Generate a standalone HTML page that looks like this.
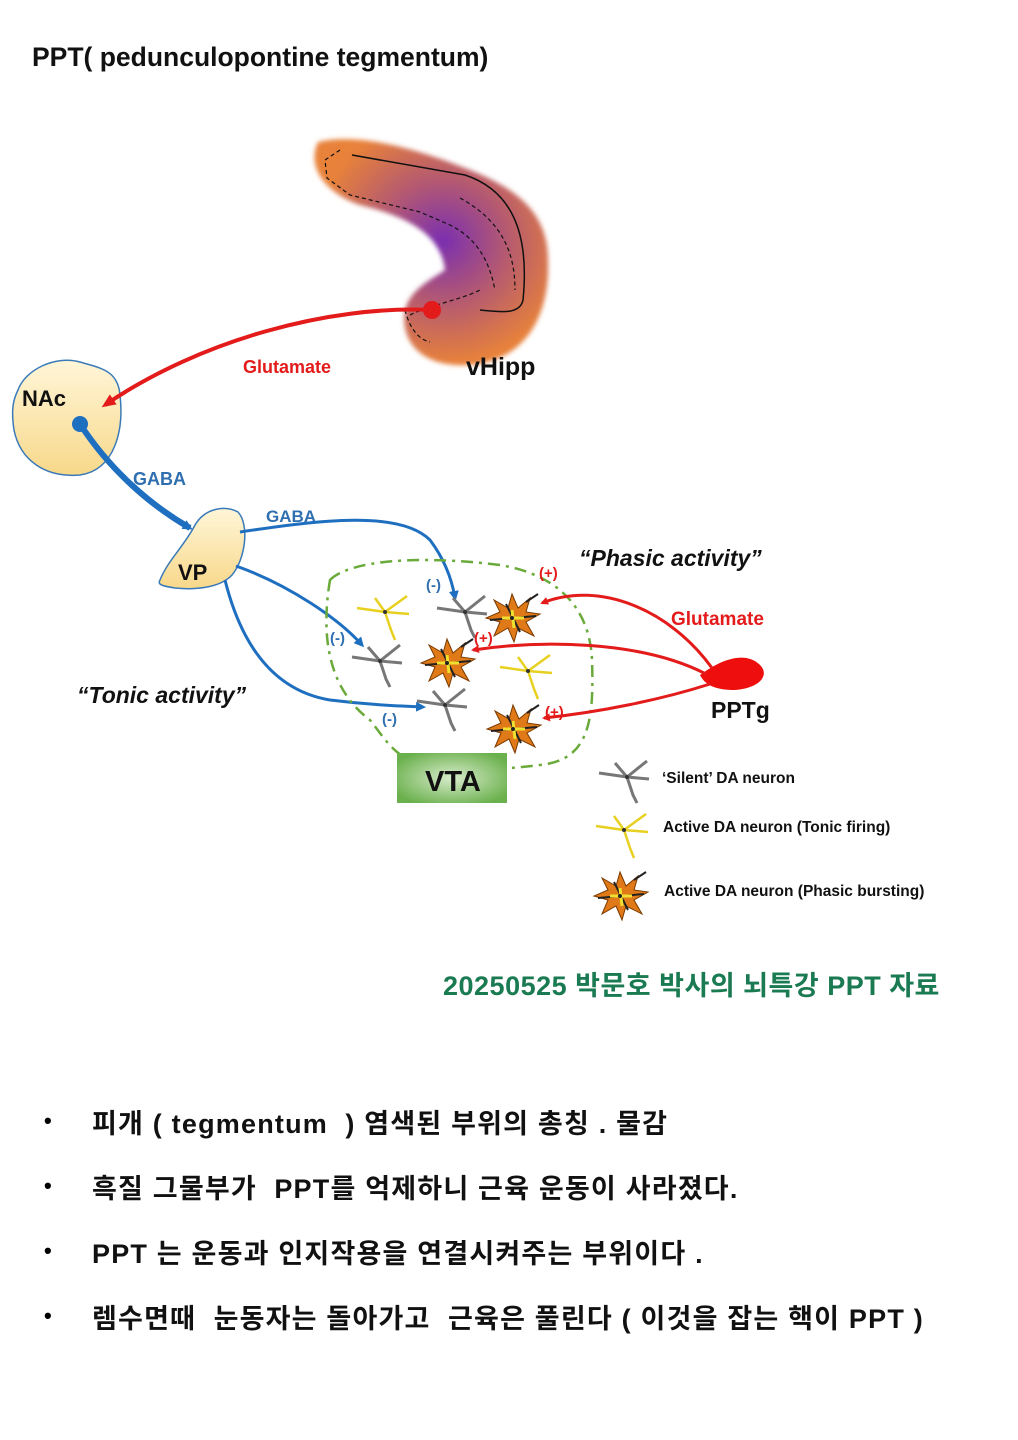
<!DOCTYPE html>
<html><head><meta charset="utf-8"><style>
body{margin:0;background:#fff;width:1018px;height:1440px;overflow:hidden;position:relative;font-family:"Liberation Sans","Noto Sans CJK KR",sans-serif}
.t{position:absolute;font-weight:bold;color:#111;white-space:nowrap}
.b{position:absolute;font-size:27px;letter-spacing:1.2px;font-weight:bold;color:#111;white-space:nowrap;left:92px}
.d{position:absolute;left:44px;font-size:22px;font-weight:bold}
</style></head><body>
<div class="t" style="left:32px;top:42px;font-size:26.5px">PPT( pedunculopontine tegmentum)</div>
<svg width="1018" height="960" style="position:absolute;left:0;top:0" font-family="Liberation Sans, sans-serif" font-weight="bold">
<defs>
<radialGradient id="hg" cx="0.55" cy="0.45" r="0.55"><stop offset="0" stop-color="#7a2fb0"/><stop offset="0.5" stop-color="#b55a70"/><stop offset="1" stop-color="#e8823a"/></radialGradient>
<linearGradient id="yg" x1="0" y1="0" x2="0" y2="1"><stop offset="0" stop-color="#fff6d8"/><stop offset="1" stop-color="#f8d88a"/></linearGradient>
<radialGradient id="vg" cx="0.5" cy="0.5" r="0.6"><stop offset="0" stop-color="#d8eccc"/><stop offset="1" stop-color="#6ab04c"/></radialGradient>
<filter id="bl"><feGaussianBlur stdDeviation="2.5"/></filter>
<marker id="ar" markerWidth="8" markerHeight="8" refX="6" refY="4" orient="auto" markerUnits="userSpaceOnUse"><path d="M0,0 L8,4 L0,8 Z" fill="#e31b1b"/></marker>
<marker id="ar2" markerWidth="14" markerHeight="12" refX="10" refY="6" orient="auto" markerUnits="userSpaceOnUse"><path d="M0,0 L14,6 L0,12 Z" fill="#e31b1b"/></marker>
<marker id="ab" markerWidth="10" markerHeight="10" refX="7" refY="5" orient="auto" markerUnits="userSpaceOnUse"><path d="M0,0 L10,5 L0,10 Z" fill="#1f6fc0"/></marker>
<g id="gn"><path d="M0,0 L-28,-4 M0,0 L-12,-14 M0,0 L20,-16 M0,0 L6,18 L10,26 M0,0 L22,2" stroke="#777" stroke-width="3" fill="none"/><circle r="2" fill="#333"/></g>
<g id="yn"><path d="M0,0 L-28,-4 M0,0 L-10,-14 M0,0 L22,-16 M0,0 L6,18 L10,28 M0,0 L24,2" stroke="#e8d020" stroke-width="2.5" fill="none"/><circle r="2" fill="#333"/></g>
<g id="pn"><path d="M0,-24 L6,-10 L18,-20 L14,-6 L28,-4 L14,4 L22,18 L6,10 L2,24 L-4,10 L-18,18 L-12,4 L-26,0 L-12,-6 L-18,-18 L-4,-10 Z" fill="#e07a18" stroke="#7a3a00" stroke-width="1"/><path d="M-22,2 L24,-2 M-6,-14 L8,14 M14,-16 L26,-24" stroke="#222" stroke-width="2"/><path d="M-10,0 L12,0 M0,-8 L2,10" stroke="#f0e030" stroke-width="3"/><circle r="2" fill="#222"/></g>
</defs>
<path d="M318,142 C360,132 420,150 470,170 C520,190 548,215 548,260 C550,310 530,360 470,365 C420,368 400,340 405,310 C410,290 430,280 445,270 C440,230 400,215 360,205 C330,195 305,170 318,142 Z" fill="url(#hg)" filter="url(#bl)"/>
<path d="M352,155 L465,175 C510,190 530,230 523,300 C520,315 500,312 480,310" stroke="#111" stroke-width="1.5" fill="none"/>
<path d="M340,150 L325,160 L327,178 L350,195 L420,212 L450,225 C480,240 490,265 495,290 M460,198 C500,220 515,250 515,290 M410,315 C430,305 460,300 480,290 M405,310 C410,330 420,340 430,342" stroke="#111" stroke-width="1.2" stroke-dasharray="4,3" fill="none"/>
<text x="466" y="375" fill="#111" font-size="25">vHipp</text>
<path d="M18,390 C25,370 55,355 80,362 C100,368 118,370 120,395 C124,430 115,470 80,475 C45,478 20,460 14,430 C11,410 13,400 18,390 Z" fill="url(#yg)" stroke="#3a7ab8" stroke-width="1.5"/>
<text x="22" y="406" font-size="22" fill="#111">NAc</text>
<path d="M432,310 C330,305 200,340 105,405" stroke="#e31b1b" stroke-width="4" fill="none" marker-end="url(#ar2)"/>
<circle cx="432" cy="310" r="9" fill="#e31b1b"/>
<text x="243" y="373" fill="#e31b1b" font-size="18">Glutamate</text>
<path d="M80,424 C110,470 150,505 190,528" stroke="#1f6fc0" stroke-width="6" fill="none" marker-end="url(#ab)"/>
<circle cx="80" cy="424" r="8" fill="#1f6fc0"/>
<text x="133" y="485" font-size="18" fill="#2f6fb0">GABA</text>
<path d="M160,580 C168,560 185,545 195,525 C205,508 225,505 238,512 C250,525 245,560 232,575 C220,588 195,590 175,588 C163,586 157,585 160,580 Z" fill="url(#yg)" stroke="#3a7ab8" stroke-width="1.5"/>
<text x="178" y="580" font-size="22" fill="#111">VP</text>
<text x="266" y="522" font-size="17" fill="#2f6fb0">GABA</text>
<g stroke="#1f6fc0" stroke-width="3" fill="none" marker-end="url(#ab)">
<path d="M240,532 C320,520 400,510 430,540 C445,560 452,580 455,598"/>
<path d="M236,566 C290,585 340,620 362,645"/>
<path d="M225,580 C240,640 270,690 330,700 C370,705 400,706 423,707"/>
</g>
<g font-size="15" fill="#2f6fb0"><text x="426" y="590">(-)</text><text x="330" y="643">(-)</text><text x="382" y="724">(-)</text></g>
<path d="M330,580 C350,560 420,555 500,565 C560,575 590,610 592,660 C594,720 590,760 540,765 C500,770 470,770 460,770 C400,770 390,745 370,720 C330,690 320,640 330,580 Z" stroke="#6aaa3a" stroke-width="2.5" fill="none" stroke-dasharray="12,6,3,6"/>
<rect x="397" y="753" width="110" height="50" fill="url(#vg)"/>
<text x="425" y="791" font-size="29" fill="#111">VTA</text>
<use href="#yn" x="385" y="612"/>
<use href="#gn" x="465" y="612"/>
<use href="#gn" x="380" y="661"/>
<use href="#yn" x="528" y="671"/>
<use href="#gn" x="445" y="705"/>
<use href="#pn" x="512" y="618"/>
<use href="#pn" x="447" y="663"/>
<use href="#pn" x="513" y="729"/>
<path d="M700,675 C720,660 745,650 760,665 C770,675 760,688 735,690 C715,690 705,685 700,675 Z" fill="#ee0e0e"/>
<g stroke="#e31b1b" stroke-width="3" fill="none" marker-end="url(#ar)">
<path d="M712,668 C670,610 600,580 542,603"/>
<path d="M706,674 C640,640 540,640 473,650"/>
<path d="M710,684 C660,700 600,712 544,718"/>
</g>
<g font-size="15" fill="#e31b1b"><text x="539" y="578">(+)</text><text x="474" y="643">(+)</text><text x="545" y="717">(+)</text></g>
<text x="671" y="625" font-size="19" fill="#e31b1b">Glutamate</text>
<text x="711" y="718" font-size="23" fill="#111">PPTg</text>
<text x="579" y="566" font-size="23" font-style="italic" fill="#111">“Phasic activity”</text>
<text x="77" y="703" font-size="23" font-style="italic" fill="#111">“Tonic activity”</text>
<use href="#gn" x="627" y="777"/>
<text x="662" y="783" font-size="15.5" fill="#111">‘Silent’ DA neuron</text>
<use href="#yn" x="624" y="830"/>
<text x="663" y="832" font-size="15.5" fill="#111">Active DA neuron (Tonic firing)</text>
<use href="#pn" x="620" y="896"/>
<text x="664" y="896" font-size="15.5" fill="#111">Active DA neuron (Phasic bursting)</text>
</svg>
<div class="t" style="left:443px;top:964px;font-size:27px;letter-spacing:0.5px;color:#1a7a52">20250525 박문호 박사의 뇌특강 PPT 자료</div>
<div class="d" style="top:1108px">•</div><div class="b" style="top:1102px">피개 ( tegmentum &nbsp;) 염색된 부위의 총칭 . 물감</div>
<div class="d" style="top:1173px">•</div><div class="b" style="top:1167px">흑질 그물부가 &nbsp;PPT를 억제하니 근육 운동이 사라졌다.</div>
<div class="d" style="top:1238px">•</div><div class="b" style="top:1232px">PPT 는 운동과 인지작용을 연결시켜주는 부위이다 .</div>
<div class="d" style="top:1303px">•</div><div class="b" style="top:1297px">렘수면때 &nbsp;눈동자는 돌아가고 &nbsp;근육은 풀린다 ( 이것을 잡는 핵이 PPT )</div>
</body></html>
